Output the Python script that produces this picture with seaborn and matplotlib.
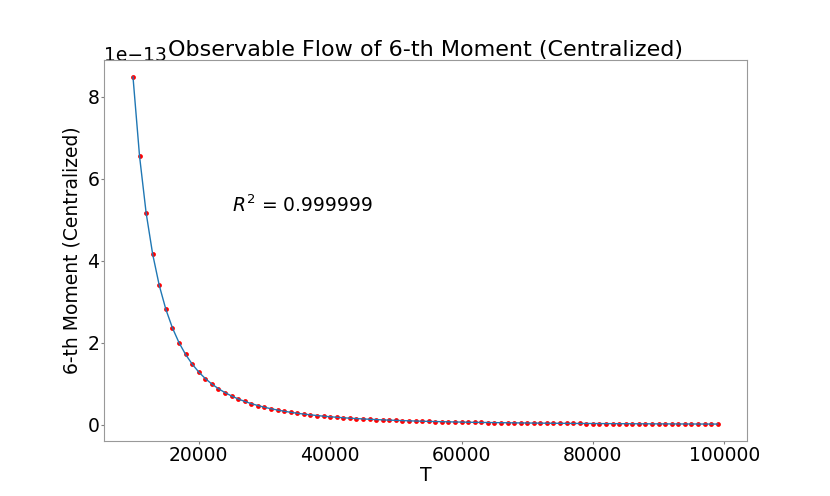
import numpy as np
import pandas as pd
import matplotlib
matplotlib.use("Agg")
import matplotlib.pyplot as plt
import seaborn as sns

# T values and 6-th central moment (units of 1e-13)
T = list(range(10000, 100000, 1000))
moment_e13 = [
    8.49, 6.552, 5.170, 4.159, 3.400, 2.818, 2.365, 2.005, 1.717, 1.482,
    1.289, 1.128, 0.994, 0.881, 0.785, 0.702, 0.631, 0.570, 0.516, 0.469,
    0.428, 0.391, 0.359, 0.330, 0.304, 0.281, 0.260, 0.242, 0.225, 0.209,
    0.195, 0.183, 0.171, 0.160, 0.151, 0.142, 0.134, 0.126, 0.119, 0.113,
    0.107, 0.101, 0.096, 0.091, 0.0866, 0.0823, 0.0784, 0.0747, 0.0712, 0.0679,
    0.0649, 0.0621, 0.0594, 0.0569, 0.0545, 0.0522, 0.0501, 0.0481, 0.0462, 0.0444,
    0.0427, 0.0411, 0.0396, 0.0381, 0.0367, 0.0354, 0.0341, 0.0329, 0.0318, 0.0307,
    0.0297, 0.0287, 0.0277, 0.0268, 0.0260, 0.0252, 0.0244, 0.0236, 0.0229, 0.0222,
    0.0216, 0.0209, 0.0203, 0.0197, 0.0192, 0.0186, 0.0181, 0.0176, 0.0171, 0.0166,
]
r2_text = r"$R^2$ = 0.999999"

df = pd.DataFrame({"T": T, "moment": np.array(moment_e13) * 1e-13})

fig, ax = plt.subplots(figsize=(8.3, 4.96), dpi=100)
sns.scatterplot(data=df, x="T", y="moment", color="red", s=12, linewidth=0, ax=ax, zorder=2)
sns.lineplot(data=df, x="T", y="moment", color="tab:blue", linewidth=1, ax=ax, zorder=3)

ax.set_title("Observable Flow of 6-th Moment (Centralized)", fontsize=16, pad=-1)
ax.set_xlabel("T", fontsize=13.5, labelpad=0.5)
ax.set_ylabel("6-th Moment (Centralized)", fontsize=13.5, labelpad=4)
ax.tick_params(labelsize=13.5, color="gray", length=2.5, pad=0.8)
ax.yaxis.get_offset_text().set_fontsize(13.5)
ax.yaxis.OFFSETTEXTPAD = -1
ax.text(0.2, 0.6, r2_text, transform=ax.transAxes, fontsize=13.5)
for s in ax.spines.values():
    s.set_color("#999999")

fig.savefig("out.png", dpi=100)
